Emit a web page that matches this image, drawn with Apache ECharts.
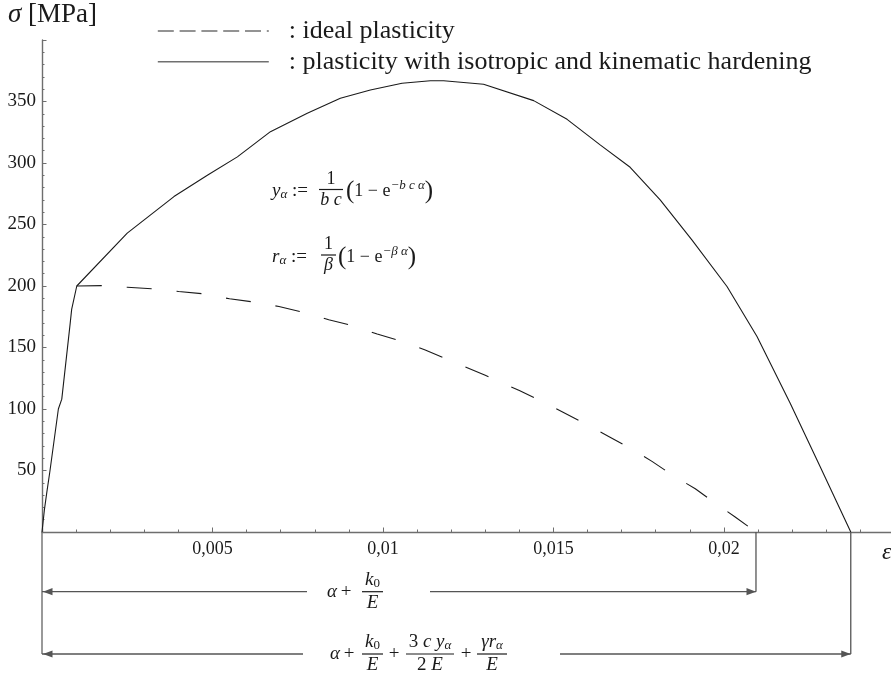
<!DOCTYPE html>
<html lang="de">
<head>
<meta charset="UTF-8">
<title>Spannungs-Dehnungs-Kurve</title>
<style>
  body { margin: 0; padding: 0; background: #fff; }
  #main { width: 891px; height: 680px; }
</style>
</head>
<body>
<div id="main"></div>
<script src="https://cdn.jsdelivr.net/npm/echarts@6/dist/echarts.min.js"></script>
<script>
// elastic branch (shared by both curves)
var strainElastic = [0, 0.00007, 0.00014, 0.00023, 0.00048, 0.00058, 0.00082, 0.00087, 0.00102];
var stressElastic = [0, 18, 32, 49, 100, 108, 168, 181, 200];

// plasticity with isotropic and kinematic hardening (after yield)
var strainHard = [0.0025, 0.00387, 0.00485, 0.00573, 0.0067, 0.00778, 0.00875, 0.00963, 0.01056, 0.01139,
  0.01178, 0.01295, 0.01442, 0.0154, 0.01637, 0.01725, 0.01813, 0.01906, 0.02009, 0.02097, 0.02194, 0.02282, 0.02372];
var stressHard = [243, 272.7, 290, 305, 325.5, 340.4, 352.6, 359.4, 364.8, 366.9,
  366.9, 364, 350.7, 335.5, 314.7, 296.5, 270, 237.5, 199.6, 159, 104.8, 53.3, 0];

// ideal plasticity (after yield)
var strainIdeal = [0.00102, 0.00177, 0.0025, 0.00324, 0.00401, 0.00475, 0.0055, 0.00623, 0.00695, 0.0077, 0.00841,
  0.00914, 0.00983, 0.01056, 0.01124, 0.012, 0.013, 0.014, 0.015, 0.016, 0.01662, 0.01725, 0.01789, 0.01852,
  0.01916, 0.01974, 0.02033, 0.02094];
var stressIdeal = [200, 200.3, 199, 197.7, 195.5, 193.6, 189.6, 186.9, 183.3, 178.4, 172.5,
  167.6, 160.9, 154.9, 148, 139, 127.5, 115, 101.5, 87, 77.7, 68.2, 57.4, 45.7,
  35.2, 23.6, 12.2, 0];

var seriesNames = ['ideal plasticity', 'plasticity with isotropic and kinematic hardening'];

var SERIF = '"Liberation Serif", "DejaVu Serif", serif';
var AXIS = '#6e6e6e';
var INK = '#1a1a1a';

function pairs(xs, ys) {
  return xs.map(function (x, i) { return [x, ys[i]]; });
}

var hardData = pairs(strainElastic, stressElastic).concat(pairs(strainHard, stressHard));
var idealData = pairs(strainIdeal, stressIdeal);

var chart = echarts.init(document.getElementById('main'), null, { renderer: 'canvas' });

var option = {
  animation: false,
  grid: { left: 42, right: 0, top: 40, bottom: 148, containLabel: false, outerBoundsMode: 'none' },
  legend: {
    orient: 'vertical',
    left: 157,
    top: 18,
    padding: 0,
    itemWidth: 111,
    itemHeight: 26,
    itemGap: 4.7,
    selectedMode: false,
    formatter: ': {name}',
    itemStyle: { opacity: 0 },
    textStyle: { fontFamily: SERIF, fontSize: 26, color: INK, padding: [0, 0, 0, 15], lineHeight: 26 },
    data: [
      { name: seriesNames[0], itemStyle: { opacity: 0 }, lineStyle: { type: [16, 5.8], color: '#707070', width: 1.6 } },
      { name: seriesNames[1], itemStyle: { opacity: 0 }, lineStyle: { color: '#707070', width: 1.6 } }
    ]
  },
  xAxis: {
    type: 'value',
    min: 0,
    max: 0.0249,
    interval: 0.005,
    axisLine: { lineStyle: { color: AXIS, width: 1.4 } },
    axisTick: { inside: true, length: 4.5, lineStyle: { color: AXIS, width: 1 } },
    minorTick: { show: true, splitNumber: 5, length: 2.5, lineStyle: { color: AXIS, width: 1 } },
    splitLine: { show: false },
    axisLabel: {
      showMinLabel: false,
      showMaxLabel: false,
      margin: 8,
      fontFamily: SERIF,
      fontSize: 18,
      color: INK,
      formatter: function (v) { return String(+v.toFixed(4)).replace('.', ','); }
    }
  },
  yAxis: {
    type: 'value',
    min: 0,
    max: 400,
    interval: 50,
    axisLine: { lineStyle: { color: AXIS, width: 1.4 } },
    axisTick: { inside: true, length: 4.5, lineStyle: { color: AXIS, width: 1 } },
    minorTick: { show: true, splitNumber: 5, length: 2.5, lineStyle: { color: AXIS, width: 1 } },
    splitLine: { show: false },
    axisLabel: {
      showMinLabel: false,
      showMaxLabel: false,
      margin: 6,
      fontFamily: SERIF,
      fontSize: 19,
      color: INK
    }
  },
  series: [
    {
      name: seriesNames[0],
      type: 'line',
      data: idealData,
      symbol: 'none',
      showSymbol: false,
      lineStyle: { color: INK, width: 1.1, type: [25, 25] },
      z: 3
    },
    {
      name: seriesNames[1],
      type: 'line',
      data: hardData,
      symbol: 'none',
      showSymbol: false,
      lineStyle: { color: INK, width: 1.1 },
      z: 3
    }
  ]
};
chart.setOption(option);

// ---------- annotations ----------
var RICH = {
  n: { fontFamily: SERIF, fontSize: 19, fill: INK },
  i: { fontFamily: SERIF, fontSize: 19, fontStyle: 'italic', fill: INK },
  sub: { fontFamily: SERIF, fontSize: 13, fontStyle: 'italic', fill: INK, padding: [8, 0, 0, 0] },
  subn: { fontFamily: SERIF, fontSize: 13, fill: INK, padding: [8, 0, 0, 0] },
  sup: { fontFamily: SERIF, fontSize: 13, fontStyle: 'italic', fill: INK, padding: [0, 0, 10, 0] },
  sn: { fontFamily: SERIF, fontSize: 18, fill: INK },
  si: { fontFamily: SERIF, fontSize: 18, fontStyle: 'italic', fill: INK },
  big: { fontFamily: SERIF, fontSize: 25, fill: INK }
};

function txt(x, y, text, align, vAlign) {
  return {
    type: 'text', x: x, y: y, z: 10,
    style: { text: text, rich: RICH, align: align || 'left', verticalAlign: vAlign || 'middle', fill: INK }
  };
}
function seg(x1, y1, x2, y2, color, w) {
  return {
    type: 'line', z: 9,
    shape: { x1: x1, y1: y1, x2: x2, y2: y2 },
    style: { stroke: color || '#555', lineWidth: w || 1.3 }
  };
}
function frac(x1, x2, yBar, num, den) {
  var cx = (x1 + x2) / 2;
  return [
    seg(x1, yBar, x2, yBar, INK, 1.2),
    txt(cx, yBar - 1.5, num, 'center', 'bottom'),
    txt(cx, yBar + 1.5, den, 'center', 'top')
  ];
}
function arrowHead(xTip, y, dir) {
  return {
    type: 'polygon', z: 9,
    shape: { points: [[xTip, y], [xTip - dir * 9.5, y - 3.6], [xTip - dir * 9.5, y + 3.6]] },
    style: { fill: '#555' }
  };
}

var x0 = chart.convertToPixel({ gridIndex: 0 }, [0, 0]);
var xIdealEnd = chart.convertToPixel({ gridIndex: 0 }, [strainIdeal[strainIdeal.length - 1], 0])[0];
var xHardEnd = chart.convertToPixel({ gridIndex: 0 }, [strainHard[strainHard.length - 1], 0])[0];
var yAxis0 = x0[1];
var xAxis0 = x0[0];

var row1 = 591.7, row2 = 654;

var g = [];
// title and axis name
g.push({
  type: 'text', x: 8, y: 15, z: 10,
  style: {
    text: '{i|σ}  {n|[MPa]}', verticalAlign: 'middle',
    rich: {
      i: { fontFamily: SERIF, fontSize: 27, fontStyle: 'italic', fill: INK },
      n: { fontFamily: SERIF, fontSize: 27, fill: INK }
    }
  }
});
g.push({
  type: 'text', x: 882, y: 553, z: 10,
  style: { text: 'ε', fontFamily: SERIF, fontSize: 24, fontStyle: 'italic', fill: INK, verticalAlign: 'middle' }
});

// formulas in the plot
g.push(txt(272, 191, '{i|y}{sub|α}{n| :=}'));
g = g.concat(frac(319, 343, 189.5, '{sn|1}', '{si|b c}'));
g.push(txt(346, 191, '{big|(}{sn|1 − e}{sup|−b c α}{big|)}'));

g.push(txt(272, 257, '{i|r}{sub|α}{n| :=}'));
g = g.concat(frac(321, 336, 255, '{sn|1}', '{si|β}'));
g.push(txt(338, 257, '{big|(}{sn|1 − e}{sup|−β α}{big|)}'));

// dimension lines
g.push(seg(xAxis0, yAxis0, xAxis0, row2, AXIS, 1.4));
g.push(seg(xIdealEnd, yAxis0, xIdealEnd, row1));
g.push(seg(xHardEnd, yAxis0, xHardEnd, row2));

g.push(seg(xAxis0, row1, 307, row1));
g.push(seg(430, row1, xIdealEnd, row1));
g.push(arrowHead(xAxis0 + 1, row1, -1));
g.push(arrowHead(xIdealEnd, row1, 1));

g.push(seg(xAxis0, row2, 303, row2));
g.push(seg(560, row2, xHardEnd, row2));
g.push(arrowHead(xAxis0 + 1, row2, -1));
g.push(arrowHead(xHardEnd, row2, 1));

// labels on the dimension lines
g.push(txt(332, row1, '{i|α}', 'center'));
g.push(txt(346, row1, '{n|+}', 'center'));
g = g.concat(frac(362, 383, row1, '{i|k}{subn|0}', '{i|E}'));

g.push(txt(335, row2, '{i|α}', 'center'));
g.push(txt(349, row2, '{n|+}', 'center'));
g = g.concat(frac(362, 383, row2, '{i|k}{subn|0}', '{i|E}'));
g.push(txt(394, row2, '{n|+}', 'center'));
g = g.concat(frac(406, 454, row2, '{n|3 }{i|c y}{sub|α}', '{n|2 }{i|E}'));
g.push(txt(466, row2, '{n|+}', 'center'));
g = g.concat(frac(477, 507, row2, '{i|γr}{sub|α}', '{i|E}'));

chart.setOption({ graphic: g });
</script>
</body>
</html>
